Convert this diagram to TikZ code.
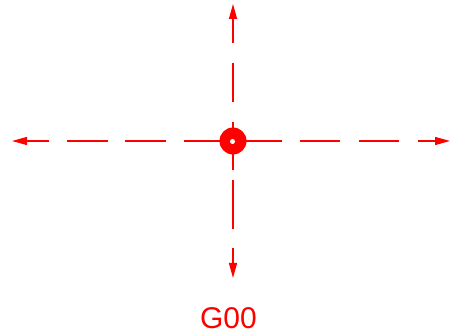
\documentclass[tikz,border=0pt]{standalone}
\usepackage{fontspec}
\setmainfont{Liberation Sans}
\usetikzlibrary{arrows.meta}
\begin{document}
\begin{tikzpicture}[x=1pt,y=-1pt,
  axis/.style={draw=red,line width=1.2pt},
  tip/.style={axis,-{Triangle[length=15pt,width=8pt]}},
  hub/.style={circle,fill=red,minimum size=27pt,inner sep=0pt},
  hole/.style={circle,fill=white,minimum size=5pt,inner sep=0pt},
  lbl/.style={text=red,font=\fontsize{30}{30}\selectfont,anchor=base}]
\useasboundingbox (0,0) rectangle (451,334);
\coordinate (c) at (233,141);
% left
\coordinate (l1) at (49,141); \coordinate (l0) at (12,141);
\draw[tip] (l1) -- (l0);
\draw[axis] (67,141) -- (108,141);
\draw[axis] (125,141) -- (166,141);
\draw[axis] (184,141) -- (c);
% right
\coordinate (r1) at (418,141); \coordinate (r0) at (450,141);
\draw[axis] (c) -- (282,141);
\draw[axis] (300,141) -- (340,141);
\draw[axis] (359,141) -- (399,141);
\draw[tip] (r1) -- (r0);
% top
\coordinate (t1) at (233,43); \coordinate (t0) at (233,4);
\draw[tip] (t1) -- (t0);
\draw[axis] (233,63) -- (233,102);
\draw[axis] (233,122) -- (c);
% bottom
\coordinate (b1) at (233,248); \coordinate (b0) at (233,278);
\draw[axis] (c) -- (233,170);
\draw[axis] (233,180) -- (233,229);
\draw[tip] (b1) -- (b0);
\node[hub] (hubc) at (c) {};
\node[hole] (holec) at (232.5,141.5) {};
\node[lbl] (label) at (228.5,329) {G00};
\end{tikzpicture}
\end{document}
